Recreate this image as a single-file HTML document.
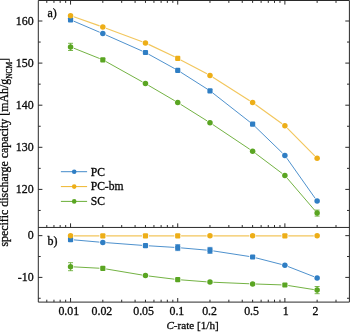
<!DOCTYPE html>
<html lang="en"><head><meta charset="utf-8"><title>Rate capability</title>
<style>html,body{margin:0;padding:0;background:#fff}body{width:350px;height:332px;overflow:hidden}svg{display:block;filter:blur(0.35px)}text{font-family:"Liberation Serif","DejaVu Serif",serif;fill:#0a0a0a;stroke:#0a0a0a;stroke-width:0.3px}</style></head><body>
<svg width="350" height="332" viewBox="0 0 350 332">
<rect width="350" height="332" fill="#fff"/>
<path d="M70.56 0.50L70.56 4.60M70.56 302.10L70.56 298.00M70.56 227.45L70.56 223.35M177.72 0.50L177.72 4.60M177.72 302.10L177.72 298.00M177.72 227.45L177.72 223.35M284.88 0.50L284.88 4.60M284.88 302.10L284.88 298.00M284.88 227.45L284.88 223.35M46.79 0.50L46.79 2.90M46.79 302.10L46.79 299.70M46.79 227.45L46.79 225.05M53.96 0.50L53.96 2.90M53.96 302.10L53.96 299.70M53.96 227.45L53.96 225.05M60.17 0.50L60.17 2.90M60.17 302.10L60.17 299.70M60.17 227.45L60.17 225.05M65.66 0.50L65.66 2.90M65.66 302.10L65.66 299.70M65.66 227.45L65.66 225.05M102.82 0.50L102.82 2.90M102.82 302.10L102.82 299.70M102.82 227.45L102.82 225.05M121.69 0.50L121.69 2.90M121.69 302.10L121.69 299.70M121.69 227.45L121.69 225.05M135.08 0.50L135.08 2.90M135.08 302.10L135.08 299.70M135.08 227.45L135.08 225.05M145.46 0.50L145.46 2.90M145.46 302.10L145.46 299.70M145.46 227.45L145.46 225.05M153.95 0.50L153.95 2.90M153.95 302.10L153.95 299.70M153.95 227.45L153.95 225.05M161.12 0.50L161.12 2.90M161.12 302.10L161.12 299.70M161.12 227.45L161.12 225.05M167.34 0.50L167.34 2.90M167.34 302.10L167.34 299.70M167.34 227.45L167.34 225.05M172.82 0.50L172.82 2.90M172.82 302.10L172.82 299.70M172.82 227.45L172.82 225.05M209.98 0.50L209.98 2.90M209.98 302.10L209.98 299.70M209.98 227.45L209.98 225.05M228.85 0.50L228.85 2.90M228.85 302.10L228.85 299.70M228.85 227.45L228.85 225.05M242.24 0.50L242.24 2.90M242.24 302.10L242.24 299.70M242.24 227.45L242.24 225.05M252.62 0.50L252.62 2.90M252.62 302.10L252.62 299.70M252.62 227.45L252.62 225.05M261.11 0.50L261.11 2.90M261.11 302.10L261.11 299.70M261.11 227.45L261.11 225.05M268.28 0.50L268.28 2.90M268.28 302.10L268.28 299.70M268.28 227.45L268.28 225.05M274.50 0.50L274.50 2.90M274.50 302.10L274.50 299.70M274.50 227.45L274.50 225.05M279.98 0.50L279.98 2.90M279.98 302.10L279.98 299.70M279.98 227.45L279.98 225.05M317.14 0.50L317.14 2.90M317.14 302.10L317.14 299.70M317.14 227.45L317.14 225.05M336.01 0.50L336.01 2.90M336.01 302.10L336.01 299.70M336.01 227.45L336.01 225.05M38.30 210.45L40.70 210.45M349.40 210.45L347.00 210.45M38.30 189.40L42.40 189.40M349.40 189.40L345.30 189.40M38.30 168.35L40.70 168.35M349.40 168.35L347.00 168.35M38.30 147.30L42.40 147.30M349.40 147.30L345.30 147.30M38.30 126.25L40.70 126.25M349.40 126.25L347.00 126.25M38.30 105.20L42.40 105.20M349.40 105.20L345.30 105.20M38.30 84.15L40.70 84.15M349.40 84.15L347.00 84.15M38.30 63.10L42.40 63.10M349.40 63.10L345.30 63.10M38.30 42.05L40.70 42.05M349.40 42.05L347.00 42.05M38.30 21.00L42.40 21.00M349.40 21.00L345.30 21.00M38.30 235.65L42.40 235.65M349.40 235.65L345.30 235.65M38.30 256.52L40.70 256.52M349.40 256.52L347.00 256.52M38.30 277.40L42.40 277.40M349.40 277.40L345.30 277.40M38.30 298.27L40.70 298.27M349.40 298.27L347.00 298.27" stroke="#2a2a2a" stroke-width="1.0" fill="none"/>
<path d="M38.3 0.5H349.4V302.1H38.3Z M38.3 227.45H349.4" stroke="#2a2a2a" stroke-width="1.0" fill="none"/>
<path d="M73.72 48.16L99.66 58.54M105.79 61.46L142.49 81.94M148.40 85.32L174.79 100.78M180.60 104.30L207.10 120.90M212.81 124.59L249.80 149.31M255.34 153.25L282.17 173.45M287.10 178.08L314.93 210.52" stroke="#5aa522" stroke-width="1" fill="none" stroke-opacity="0.85"/>
<path d="M70.56 43.30V50.50M68.06 43.30h5M68.06 50.50h5" stroke="#5aa522" stroke-width="0.8" fill="none"/>
<circle cx="70.56" cy="46.90" r="2.75" fill="#5aa522"/>
<rect x="100.22" y="57.20" width="5.2" height="5.2" rx="1" fill="#5aa522"/>
<circle cx="145.46" cy="83.60" r="2.75" fill="#5aa522"/>
<circle cx="177.72" cy="102.50" r="2.75" fill="#5aa522"/>
<circle cx="209.98" cy="122.70" r="2.75" fill="#5aa522"/>
<circle cx="252.62" cy="151.20" r="2.75" fill="#5aa522"/>
<circle cx="284.88" cy="175.50" r="2.75" fill="#5aa522"/>
<path d="M317.14 210.10V216.10M314.64 210.10h5M314.64 216.10h5" stroke="#5aa522" stroke-width="0.8" fill="none"/>
<circle cx="317.14" cy="213.10" r="2.75" fill="#5aa522"/>
<path d="M73.68 21.14L99.69 32.26M105.93 34.98L142.35 51.12M148.44 54.14L174.74 68.66M180.59 72.12L207.11 88.98M212.66 92.90L249.95 122.10M255.07 126.56L282.44 153.04M286.84 158.18L315.18 198.32" stroke="#2f7ec4" stroke-width="1" fill="none" stroke-opacity="0.85"/>
<rect x="67.96" y="17.20" width="5.2" height="5.2" rx="1" fill="#2f7ec4"/>
<circle cx="102.82" cy="33.60" r="2.75" fill="#2f7ec4"/>
<rect x="142.86" y="49.90" width="5.2" height="5.2" rx="1" fill="#2f7ec4"/>
<rect x="175.12" y="67.70" width="5.2" height="5.2" rx="1" fill="#2f7ec4"/>
<rect x="207.38" y="88.20" width="5.2" height="5.2" rx="1" fill="#2f7ec4"/>
<rect x="250.02" y="121.60" width="5.2" height="5.2" rx="1" fill="#2f7ec4"/>
<circle cx="284.88" cy="155.40" r="2.75" fill="#2f7ec4"/>
<circle cx="317.14" cy="201.10" r="2.75" fill="#2f7ec4"/>
<path d="M73.77 16.82L99.61 25.88M106.00 28.19L142.28 41.71M148.53 44.36L174.65 56.84M180.72 59.89L206.98 73.81M212.85 77.22L249.75 100.68M255.38 104.49L282.12 123.71M287.27 128.12L314.75 155.88" stroke="#edae17" stroke-width="1.15" fill="none" stroke-opacity="0.7"/>
<circle cx="70.56" cy="15.70" r="2.75" fill="#edae17"/>
<circle cx="102.82" cy="27.00" r="2.75" fill="#edae17"/>
<circle cx="145.46" cy="42.90" r="2.75" fill="#edae17"/>
<rect x="175.12" y="55.70" width="5.2" height="5.2" rx="1" fill="#edae17"/>
<circle cx="209.98" cy="75.40" r="2.75" fill="#edae17"/>
<circle cx="252.62" cy="102.50" r="2.75" fill="#edae17"/>
<circle cx="284.88" cy="125.70" r="2.75" fill="#edae17"/>
<circle cx="317.14" cy="158.30" r="2.75" fill="#edae17"/>
<path d="M73.95 266.88L99.42 268.22M106.17 268.97L142.11 275.03M148.84 276.02L174.35 279.18M181.11 279.86L206.59 281.84M213.38 282.24L249.23 283.76M256.02 284.02L281.48 284.88M288.24 285.53L313.78 289.57" stroke="#5aa522" stroke-width="1" fill="none" stroke-opacity="0.85"/>
<path d="M70.56 262.70V270.70M68.06 262.70h5M68.06 270.70h5" stroke="#5aa522" stroke-width="0.8" fill="none"/>
<circle cx="70.56" cy="266.70" r="2.75" fill="#5aa522"/>
<rect x="100.22" y="265.80" width="5.2" height="5.2" rx="1" fill="#5aa522"/>
<circle cx="145.46" cy="275.60" r="2.75" fill="#5aa522"/>
<rect x="175.12" y="277.00" width="5.2" height="5.2" rx="1" fill="#5aa522"/>
<circle cx="209.98" cy="282.10" r="2.75" fill="#5aa522"/>
<circle cx="252.62" cy="283.90" r="2.75" fill="#5aa522"/>
<rect x="282.28" y="282.40" width="5.2" height="5.2" rx="1" fill="#5aa522"/>
<path d="M317.14 286.50V293.70M314.64 286.50h5M314.64 293.70h5" stroke="#5aa522" stroke-width="0.8" fill="none"/>
<circle cx="317.14" cy="290.10" r="2.75" fill="#5aa522"/>
<path d="M73.95 239.89L99.43 242.11M106.21 242.65L142.07 245.35M148.86 245.81L174.33 247.39M181.11 247.89L206.59 250.11M213.34 250.92L249.26 256.48M255.92 257.85L281.59 264.45M288.05 266.54L313.97 276.66" stroke="#2f7ec4" stroke-width="1" fill="none" stroke-opacity="0.85"/>
<rect x="67.96" y="237.00" width="5.2" height="5.2" rx="1" fill="#2f7ec4"/>
<circle cx="102.82" cy="242.40" r="2.75" fill="#2f7ec4"/>
<rect x="142.86" y="243.00" width="5.2" height="5.2" rx="1" fill="#2f7ec4"/>
<path d="M177.72 244.60V250.60M175.22 244.60h5M175.22 250.60h5" stroke="#2f7ec4" stroke-width="0.8" fill="none"/>
<rect x="175.12" y="245.00" width="5.2" height="5.2" rx="1" fill="#2f7ec4"/>
<path d="M209.98 247.40V253.40M207.48 247.40h5M207.48 253.40h5" stroke="#2f7ec4" stroke-width="0.8" fill="none"/>
<rect x="207.38" y="247.80" width="5.2" height="5.2" rx="1" fill="#2f7ec4"/>
<rect x="250.02" y="254.40" width="5.2" height="5.2" rx="1" fill="#2f7ec4"/>
<circle cx="284.88" cy="265.30" r="2.75" fill="#2f7ec4"/>
<circle cx="317.14" cy="277.90" r="2.75" fill="#2f7ec4"/>
<path d="M73.96 235.80L99.42 235.80M106.22 235.80L142.06 235.80M148.86 235.80L174.32 235.80M181.12 235.80L206.58 235.80M213.38 235.80L249.22 235.80M256.02 235.80L281.48 235.80M288.28 235.80L313.74 235.80" stroke="#edae17" stroke-width="1.15" fill="none" stroke-opacity="0.7"/>
<circle cx="70.56" cy="235.80" r="2.75" fill="#edae17"/>
<rect x="100.22" y="233.20" width="5.2" height="5.2" rx="1" fill="#edae17"/>
<rect x="142.86" y="233.20" width="5.2" height="5.2" rx="1" fill="#edae17"/>
<rect x="175.12" y="233.20" width="5.2" height="5.2" rx="1" fill="#edae17"/>
<circle cx="209.98" cy="235.80" r="2.75" fill="#edae17"/>
<circle cx="252.62" cy="235.80" r="2.75" fill="#edae17"/>
<rect x="282.28" y="233.20" width="5.2" height="5.2" rx="1" fill="#edae17"/>
<circle cx="317.14" cy="235.80" r="2.75" fill="#edae17"/>
<path d="M60.9 171.7H87.1" stroke="#2f7ec4" stroke-width="1" stroke-opacity="0.9"/>
<circle cx="74.2" cy="171.7" r="2.3" fill="#2f7ec4"/>
<text x="90.7" y="175.5" font-size="11.6">PC</text>
<path d="M60.9 186.6H87.1" stroke="#edae17" stroke-width="1" stroke-opacity="0.9"/>
<circle cx="74.2" cy="186.6" r="2.3" fill="#edae17"/>
<text x="90.7" y="190.4" font-size="11.6">PC-bm</text>
<path d="M60.9 201.4H87.1" stroke="#5aa522" stroke-width="1" stroke-opacity="0.9"/>
<circle cx="74.2" cy="201.4" r="2.3" fill="#5aa522"/>
<text x="90.7" y="205.2" font-size="11.6">SC</text>
<text x="47.5" y="16.9" font-size="12">a)</text>
<text x="47.4" y="245.0" font-size="12">b)</text>
<text x="33.6" y="24.7" font-size="11.9" text-anchor="end">160</text>
<text x="33.6" y="66.8" font-size="11.9" text-anchor="end">150</text>
<text x="33.6" y="108.9" font-size="11.9" text-anchor="end">140</text>
<text x="33.6" y="151.0" font-size="11.9" text-anchor="end">130</text>
<text x="33.6" y="193.1" font-size="11.9" text-anchor="end">120</text>
<text x="33.6" y="239.3" font-size="11.9" text-anchor="end">0</text>
<text x="33.6" y="281.1" font-size="11.9" text-anchor="end">-10</text>
<text x="68.8" y="314.9" font-size="11.9" text-anchor="middle">0.01</text>
<text x="101.9" y="314.9" font-size="11.9" text-anchor="middle">0.02</text>
<text x="143.6" y="314.9" font-size="11.9" text-anchor="middle">0.05</text>
<text x="176.9" y="314.9" font-size="11.9" text-anchor="middle">0.1</text>
<text x="209.6" y="314.9" font-size="11.9" text-anchor="middle">0.2</text>
<text x="251.6" y="314.9" font-size="11.9" text-anchor="middle">0.5</text>
<text x="285.7" y="314.9" font-size="11.9" text-anchor="middle">1</text>
<text x="315.5" y="314.9" font-size="11.9" text-anchor="middle">2</text>
<text x="166.4" y="328.5" font-size="11.3" textLength="52.3" lengthAdjust="spacingAndGlyphs"><tspan font-style="italic">C</tspan>-rate [1/h]</text>
<text transform="translate(8.4 246.6) rotate(-90)" font-size="11.9">specific discharge capacity [mAh/g<tspan font-size="7.4" dy="3.6">NCM</tspan><tspan dy="-3.6">]</tspan></text>
</svg></body></html>
